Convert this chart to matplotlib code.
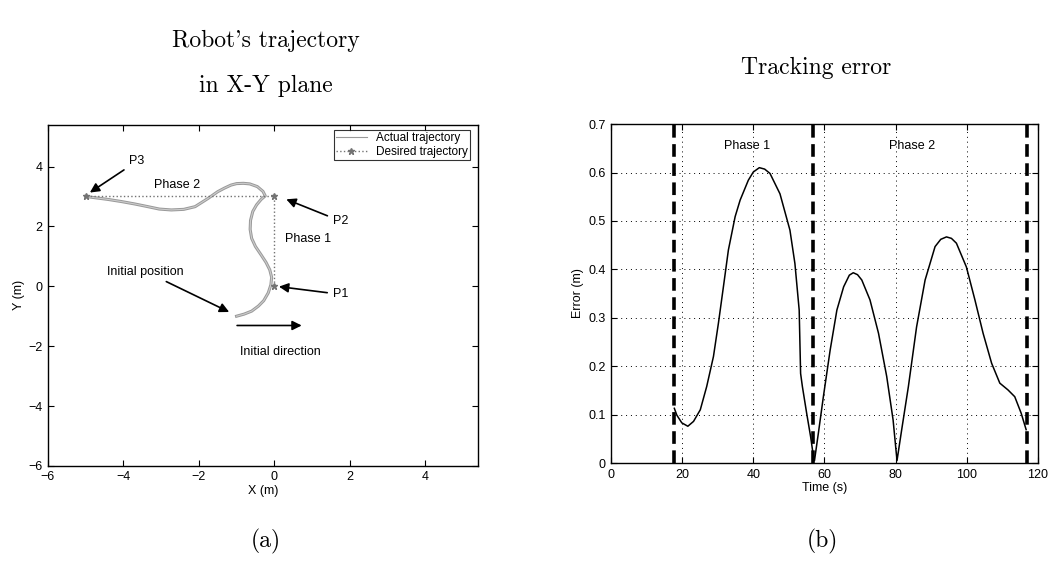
import numpy as np
import matplotlib
matplotlib.use("Agg")
import matplotlib.pyplot as plt

plt.rcParams['font.family'] = ['Liberation Sans', 'DejaVu Sans']

# (a) robot trajectory in the X-Y plane
actual_x = [-1.0, -0.8, -0.6, -0.42, -0.28, -0.16, -0.09, -0.07, -0.12, -0.22, -0.35, -0.50,
            -0.60, -0.64, -0.63, -0.57, -0.47, -0.35, -0.24, -0.30, -0.45, -0.65, -0.82, -1.0,
            -1.15, -1.32, -1.50, -1.75, -2.1, -2.4, -2.73, -3.05, -3.35, -3.7, -4.05, -4.4,
            -4.7, -5.0]
actual_y = [-1.0, -0.93, -0.83, -0.66, -0.48, -0.22, 0.05, 0.3, 0.55, 0.8, 1.05, 1.33,
            1.6, 1.9, 2.2, 2.5, 2.72, 2.9, 3.02, 3.17, 3.33, 3.42, 3.44, 3.43,
            3.38, 3.28, 3.16, 2.94, 2.66, 2.57, 2.55, 2.58, 2.66, 2.75, 2.83, 2.9,
            2.95, 3.0]
desired_x = [0, 0, -5]
desired_y = [0, 3, 3]

# (b) tracking error
time_s = [17.8, 18.5, 19.9, 21.6, 23.2, 25.1, 26.9, 28.8, 30.2, 31.6, 33.0, 34.9, 36.3,
          38.6, 40.0, 41.7, 43.2, 44.7, 47.5, 50.3, 51.7, 52.9, 53.3, 53.8, 55.0, 56.1,
          56.9, 57.2, 58.3, 59.7, 61.6, 63.5, 65.4, 67.0, 68.1, 69.3, 70.5, 72.8, 75.2,
          77.5, 79.3, 80.4, 81.7, 83.6, 85.9, 88.3, 91.1, 92.7, 94.3, 95.7, 97.1, 99.9,
          102.3, 104.6, 107.0, 109.3, 111.6, 113.5, 115.3, 116.7]
error_m = [0.113, 0.099, 0.083, 0.076, 0.086, 0.110, 0.158, 0.220, 0.289, 0.364, 0.440,
           0.509, 0.543, 0.584, 0.601, 0.610, 0.607, 0.598, 0.556, 0.481, 0.412, 0.316,
           0.185, 0.158, 0.103, 0.055, 0.014, 0.005, 0.062, 0.137, 0.233, 0.316, 0.364,
           0.388, 0.393, 0.389, 0.378, 0.337, 0.268, 0.179, 0.089, 0.005, 0.068, 0.158,
           0.281, 0.378, 0.447, 0.462, 0.467, 0.464, 0.454, 0.405, 0.337, 0.268, 0.206,
           0.165, 0.151, 0.137, 0.103, 0.069]
phase_bounds = [17.6, 56.8, 117.0]

fig = plt.figure(figsize=(10.54, 5.64), dpi=100)
ax1 = fig.add_axes([0.0455, 0.174, 0.408, 0.605])
ax2 = fig.add_axes([0.5797, 0.179, 0.405, 0.601])

tfont = dict(family='cmr10', fontsize=17)
fig.text(0.252, 0.928, "Robot's trajectory", ha='center', va='center', **tfont)
fig.text(0.252, 0.848, "in X-Y plane", ha='center', va='center', **tfont)
fig.text(0.774, 0.88, "Tracking error", ha='center', va='center', **tfont)
fig.text(0.252, 0.04, "(a)", ha='center', va='center', **tfont)
fig.text(0.780, 0.04, "(b)", ha='center', va='center', **tfont)

fs = 9
# left panel
ax1.plot(actual_x, actual_y, color='0.6', lw=2.2, label='Actual trajectory')
ax1.plot(actual_x, actual_y, color='0.8', lw=0.8)
ax1.plot(desired_x, desired_y, color='0.45', ls=':', lw=1, marker='*', ms=5,
         label='Desired trajectory')
ax1.set_xlim(-6, 5.4)
ax1.set_ylim(-6, 5.4)
ax1.set_xticks([-6, -4, -2, 0, 2, 4])
ax1.set_yticks([-6, -4, -2, 0, 2, 4])
ax1.set_xlabel('X (m)', fontsize=fs, labelpad=1)
ax1.set_ylabel('Y (m)', fontsize=fs, labelpad=2)
leg = ax1.legend(loc='upper right', bbox_to_anchor=(0.982, 0.985), borderaxespad=0,
                 fontsize=8.5, frameon=True, fancybox=False, edgecolor='black',
                 handlelength=2.6, borderpad=0.2, labelspacing=0.15)
leg.get_frame().set_linewidth(0.8)
leg.get_lines()[0].set_linewidth(0.8)

arrow = dict(arrowstyle='-|>', color='black', lw=1.2, mutation_scale=14)
ax1.annotate('P3', xy=(-4.95, 3.08), xytext=(-3.85, 4.17), fontsize=fs,
             ha='left', va='center', arrowprops=arrow)
ax1.annotate('P2', xy=(0.25, 2.94), xytext=(1.55, 2.18), fontsize=fs,
             ha='left', va='center', arrowprops=arrow)
ax1.annotate('P1', xy=(0.05, 0.0), xytext=(1.55, -0.27), fontsize=fs,
             ha='left', va='center', arrowprops=arrow)
ax1.annotate('Initial position', xy=(-1.13, -0.9), xytext=(-3.41, 0.49), fontsize=fs,
             ha='center', va='center', arrowprops=arrow)
ax1.annotate('', xy=(0.8, -1.31), xytext=(-1.06, -1.31), arrowprops=arrow)
ax1.text(0.15, -2.18, 'Initial direction', fontsize=fs, ha='center', va='center')
ax1.text(-2.57, 3.38, 'Phase 2', fontsize=fs, ha='center', va='center')
ax1.text(0.89, 1.58, 'Phase 1', fontsize=fs, ha='center', va='center')

# right panel
ax2.plot(time_s, error_m, color='black', lw=1.1)
for t in phase_bounds:
    ax2.axvline(t, color='black', lw=2.6, ls=(0, (3.5, 1.8)))
ax2.set_xlim(0, 120)
ax2.set_ylim(0, 0.7)
ax2.set_xticks(np.arange(0, 121, 20))
ax2.set_yticks(np.arange(0, 0.71, 0.1))
ax2.set_yticklabels(['0', '0.1', '0.2', '0.3', '0.4', '0.5', '0.6', '0.7'])
ax2.grid(True, color='black', ls=(0, (1, 4)), lw=0.7)
ax2.set_xlabel('Time (s)', fontsize=fs, labelpad=1)
ax2.set_ylabel('Error (m)', fontsize=fs, labelpad=3)
ax2.text(38.2, 0.654, 'Phase 1', fontsize=fs, ha='center', va='center')
ax2.text(84.6, 0.654, 'Phase 2', fontsize=fs, ha='center', va='center')

for ax in (ax1, ax2):
    ax.tick_params(direction='in', top=True, right=True, length=4, width=0.8,
                   labelsize=fs, pad=4)
    for sp in ax.spines.values():
        sp.set_linewidth(1.0)

fig.savefig('out.png', dpi=100)
